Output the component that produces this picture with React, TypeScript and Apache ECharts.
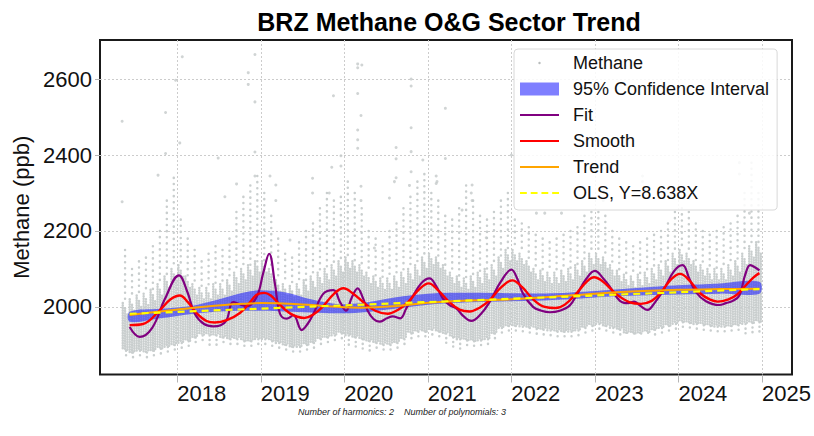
import React, { useEffect, useRef } from "react";
import * as echarts from "echarts";

const chartTitle = "BRZ Methane O&G Sector Trend";
const yAxisName = "Methane (ppb)";
const footnote = "Number of harmonics: 2    Number of polynomials: 3";
const xTickYears = [2018, 2019, 2020, 2021, 2022, 2023, 2024, 2025];
const yTickValues = [2000, 2200, 2400, 2600];
const legendNames = ["Methane", "95% Confidence Interval", "Fit", "Smooth", "Trend", "OLS, Y=8.638X"];

// Monthly stripes of observations, starting May 2017
const stripeStart = { year: 2017, month: 5 };
const stripeTailLow = [
  1865, 1860, 1865, 1862, 1870, 1870, 1875, 1880,
  1885, 1890, 1900, 1905, 1900, 1900, 1900, 1895, 1895, 1890, 1890, 1895,
  1895, 1890, 1885, 1880, 1880, 1880, 1885, 1890, 1895, 1900, 1905, 1910,
  1900, 1895, 1890, 1885, 1882, 1880, 1880, 1885, 1900, 1910, 1915, 1920,
  1920, 1915, 1905, 1895, 1890, 1888, 1888, 1890, 1895, 1910, 1925, 1930,
  1930, 1928, 1925, 1922, 1920, 1920, 1920, 1920, 1922, 1925, 1930, 1935,
  1940, 1935, 1930, 1925, 1920, 1918, 1918, 1920, 1925, 1930, 1935, 1940,
  1945, 1940, 1938, 1935, 1932, 1930, 1930, 1932, 1935, 1925, 1922, 1925,
];
const stripeCoreLow = [
  1885, 1880, 1885, 1880, 1885, 1890, 1895, 1900,
  1905, 1910, 1920, 1925, 1925, 1925, 1920, 1915, 1915, 1910, 1910, 1915,
  1915, 1910, 1905, 1900, 1895, 1895, 1900, 1905, 1915, 1920, 1925, 1930,
  1925, 1920, 1915, 1910, 1905, 1900, 1900, 1905, 1915, 1930, 1935, 1935,
  1940, 1935, 1930, 1920, 1915, 1912, 1910, 1912, 1915, 1930, 1945, 1950,
  1950, 1948, 1945, 1942, 1940, 1938, 1935, 1935, 1935, 1938, 1945, 1950,
  1955, 1950, 1945, 1940, 1932, 1930, 1930, 1932, 1940, 1945, 1950, 1955,
  1960, 1958, 1955, 1952, 1950, 1948, 1948, 1950, 1952, 1955, 1958, 1960,
];
const stripeCoreHigh = [
  2010, 2020, 2030, 2035, 2045, 2060, 2080, 2100,
  2110, 2080, 2060, 2050, 2050, 2060, 2060, 2070, 2090, 2100, 2110, 2120,
  2120, 2100, 2070, 2060, 2055, 2060, 2070, 2080, 2090, 2100, 2110, 2120,
  2130, 2120, 2110, 2090, 2080, 2075, 2075, 2080, 2090, 2100, 2110, 2130,
  2140, 2130, 2110, 2090, 2080, 2075, 2080, 2090, 2100, 2110, 2130, 2150,
  2150, 2140, 2120, 2100, 2095, 2090, 2090, 2095, 2100, 2110, 2120, 2140,
  2140, 2130, 2110, 2095, 2085, 2080, 2085, 2090, 2100, 2110, 2120, 2140,
  2150, 2140, 2120, 2110, 2100, 2100, 2100, 2110, 2120, 2140, 2160, 2170,
];
const stripeTailHigh = [
  2150, 2100, 2120, 2130, 2160, 2200, 2280, 2340,
  2230, 2180, 2150, 2120, 2140, 2160, 2150, 2180, 2250, 2290, 2320, 2345,
  2300, 2240, 2180, 2140, 2130, 2170, 2200, 2220, 2260, 2300, 2280, 2290,
  2330, 2300, 2260, 2200, 2180, 2160, 2200, 2220, 2260, 2290, 2330, 2350,
  2300, 2280, 2240, 2230, 2260, 2320, 2280, 2240, 2230, 2250, 2280, 2300,
  2230, 2220, 2210, 2190, 2180, 2170, 2180, 2190, 2200, 2210, 2240, 2250,
  2250, 2240, 2200, 2180, 2170, 2160, 2170, 2180, 2190, 2200, 2220, 2250,
  2260, 2250, 2220, 2200, 2190, 2200, 2210, 2220, 2240, 2300, 2380, 2300,
];

// Isolated high readings [decimal year, ppb]
const outliers: [number, number][] = [
  [2017.34, 2489], [2017.34, 2277], [2017.77, 2347], [2017.86, 2512], [2017.86, 2404],
  [2018.06, 2659], [2017.98, 2597], [2018.03, 2432], [2018.49, 2392], [2018.57, 2290],
  [2018.71, 2324], [2018.85, 2617], [2018.85, 2586], [2018.93, 2665], [2018.93, 2540],
  [2018.93, 2408], [2018.93, 2345], [2019.11, 2345], [2019.18, 2321], [2019.18, 2280],
  [2019.35, 2176], [2019.62, 2339], [2019.62, 2300], [2019.82, 2300], [2019.85, 2368],
  [2019.87, 2556], [2019.96, 2398], [2019.96, 2371], [2020.16, 2640], [2020.16, 2630],
  [2020.21, 2637], [2020.16, 2562], [2020.20, 2504], [2020.16, 2466], [2020.16, 2440],
  [2020.16, 2418], [2020.36, 2155], [2020.54, 2287], [2020.62, 2420], [2020.62, 2390],
  [2020.62, 2340], [2020.80, 2600], [2020.80, 2582], [2020.80, 2472], [2020.80, 2409],
  [2020.80, 2356], [2020.94, 2387], [2021.21, 2523], [2021.21, 2391], [2021.10, 2345],
  [2021.10, 2325], [2021.41, 2255], [2021.53, 2321], [2021.53, 2280], [2021.70, 2182],
  [2020.20, 2318], [2020.20, 2280], [2020.78, 2320], [2021.11, 2330], [2021.52, 2300],
  [2020.60, 2330], [2022.00, 2400], [2022.30, 2247], [2022.40, 2247], [2022.60, 2247],
  [2023.57, 2345], [2023.57, 2330], [2024.73, 2380], [2024.73, 2350], [2024.85, 2247],
  [2022.50, 2300], [2023.10, 2280],
];

const fitPoints: [number, number][] = [
  [2017.43, 1947], [2017.55, 1921], [2017.7, 1945], [2017.85, 2020], [2018.02, 2083],
  [2018.12, 2040], [2018.21, 1982], [2018.32, 1955], [2018.43, 1949], [2018.52, 1952],
  [2018.59, 1965], [2018.67, 2013], [2018.76, 2006], [2018.83, 2002], [2018.95, 2026],
  [2019.03, 2090], [2019.10, 2140], [2019.17, 2060], [2019.23, 1982], [2019.31, 1969],
  [2019.39, 1978], [2019.49, 1939], [2019.56, 1955], [2019.63, 1982], [2019.75, 2035],
  [2019.87, 2044], [2019.95, 2012], [2020.02, 1990], [2020.09, 2025], [2020.16, 2049],
  [2020.22, 2025], [2020.28, 1990], [2020.35, 1968], [2020.42, 1961], [2020.51, 1970],
  [2020.58, 1975], [2020.67, 1970], [2020.74, 1995], [2020.81, 2024], [2020.92, 2062],
  [2021.02, 2075], [2021.10, 2055], [2021.18, 2022], [2021.26, 2005], [2021.34, 1996],
  [2021.43, 1975], [2021.52, 1963], [2021.63, 1980], [2021.74, 2013], [2021.87, 2065],
  [2022.00, 2098], [2022.07, 2075], [2022.14, 2035], [2022.26, 2000], [2022.36, 1990],
  [2022.46, 1986], [2022.58, 1990], [2022.70, 2004], [2022.78, 2031], [2022.90, 2075],
  [2023.00, 2095], [2023.10, 2075], [2023.18, 2053], [2023.30, 2016], [2023.40, 2010],
  [2023.47, 2014], [2023.55, 2002], [2023.63, 1992], [2023.72, 2012], [2023.82, 2044],
  [2023.95, 2095], [2024.05, 2110], [2024.13, 2075], [2024.21, 2039], [2024.33, 2015],
  [2024.49, 2005], [2024.57, 2010], [2024.65, 2016], [2024.73, 2030], [2024.80, 2085],
  [2024.86, 2110], [2024.92, 2104], [2024.97, 2096],
];

const smoothPoints: [number, number][] = [
  [2017.43, 1952], [2017.59, 1955], [2017.79, 1991], [2017.92, 2020], [2018.03, 2030],
  [2018.13, 2012], [2018.23, 1984], [2018.35, 1963], [2018.45, 1959], [2018.6, 1966],
  [2018.75, 1984], [2018.87, 2012], [2018.95, 2032], [2019.04, 2037], [2019.12, 2030],
  [2019.2, 2012], [2019.35, 1983], [2019.52, 1971], [2019.63, 1980], [2019.74, 2000],
  [2019.87, 2033], [2019.99, 2049], [2020.1, 2036], [2020.23, 2012], [2020.37, 1990],
  [2020.52, 1982], [2020.64, 1992], [2020.76, 2012], [2020.89, 2045], [2021.01, 2062],
  [2021.13, 2042], [2021.26, 2012], [2021.38, 1993], [2021.5, 1988], [2021.62, 1998],
  [2021.74, 2018], [2021.88, 2052], [2022.01, 2070], [2022.13, 2052], [2022.26, 2020],
  [2022.4, 2000], [2022.53, 1997], [2022.64, 2006], [2022.78, 2036], [2022.9, 2066],
  [2022.99, 2078], [2023.1, 2066], [2023.26, 2033], [2023.42, 2012], [2023.55, 2008],
  [2023.68, 2016], [2023.79, 2038], [2023.91, 2072], [2024.02, 2087], [2024.13, 2070],
  [2024.26, 2036], [2024.38, 2019], [2024.47, 2014], [2024.6, 2020], [2024.7, 2032],
  [2024.8, 2055], [2024.9, 2078], [2024.97, 2089],
];

const trendPoints: [number, number][] = [
  [2017.43, 1979], [2017.8, 1988], [2018.2, 1998], [2018.6, 2006], [2019.0, 2010],
  [2019.4, 2008], [2019.8, 2002], [2020.2, 1998], [2020.6, 2002], [2021.0, 2011],
  [2021.5, 2017], [2022.0, 2020], [2022.5, 2027], [2023.0, 2035], [2023.5, 2041],
  [2024.0, 2045], [2024.5, 2047], [2024.97, 2048],
];

const olsPoints: [number, number][] = [
  [2017.43, 1982], [2024.97, 2047],
];

const ciYears = [2017.43, 2017.8, 2018.2, 2018.5, 2018.8, 2019.0, 2019.3, 2019.6, 2019.9, 2020.2, 2020.6, 2021.0, 2021.5, 2022.0, 2022.5, 2023.0, 2023.5, 2024.0, 2024.5, 2024.97];
const ciLower = [1961, 1970, 1982, 1988, 1990, 1990, 1988, 1985, 1983, 1985, 1995, 2006, 2012, 2015, 2018, 2025, 2030, 2033, 2035, 2035];
const ciUpper = [1987, 1995, 2004, 2020, 2038, 2044, 2038, 2020, 2008, 2010, 2025, 2035, 2037, 2036, 2036, 2042, 2050, 2057, 2062, 2066];

const FONT = "Liberation Sans, Arial, sans-serif";
const DOT = "#c9cece";
const BAND = "rgba(0,0,255,0.5)";
const FIT = "#800080";
const SMOOTH = "#ff0000";
const TREND = "#ffa500";
const OLS = "#ffff00";

export default function App() {
  const ref = useRef<HTMLDivElement>(null);
  useEffect(() => {
    if (!ref.current) return;
    const chart = echarts.init(ref.current, null, { renderer: "svg" });

    const stripeData = stripeCoreLow.map((_, i) => {
      const m = stripeStart.month - 1 + i;
      const x = stripeStart.year + Math.floor(m / 12) + ((m % 12) + 0.5) / 12;
      return [x, stripeTailLow[i], stripeCoreLow[i], stripeCoreHigh[i], stripeTailHigh[i]];
    });
    const bandData = ciYears.map((x, i) => [x, ciLower[i], ciUpper[i]]);

    const frame = "M0,0M40,0M40,13M0,13";
    const dotIcon = `path://${frame}M18.8,6.5a1.2,1.2 0 1,0 2.4,0a1.2,1.2 0 1,0 -2.4,0z`;
    const lineIcon = `path://${frame}M0,5.6L40,5.6L40,7.4L0,7.4Z`;
    const dashIcon = `path://${frame}M0,5.6L7,5.6L7,7.4L0,7.4ZM11,5.6L18,5.6L18,7.4L11,7.4ZM22,5.6L29,5.6L29,7.4L22,7.4ZM33,5.6L40,5.6L40,7.4L33,7.4Z`;

    const dotLine = (x: number, y1: number, y2: number, gap: number, offset: number) => ({
      type: "line",
      shape: { x1: x, y1, x2: x, y2 },
      style: { stroke: DOT, lineWidth: 2.5, lineDash: [0.1, gap], lineDashOffset: offset, lineCap: "round" },
    });

    chart.setOption({
      animation: false,
      backgroundColor: "#ffffff",
      textStyle: { fontFamily: FONT },
      title: {
        text: chartTitle,
        left: 444,
        top: 4,
        textAlign: "center",
        textStyle: { fontSize: 25, fontWeight: "bold", color: "#000", fontFamily: FONT },
      },
      grid: {
        left: 100,
        top: 40,
        right: 22,
        bottom: 61.5,
        show: true,
        borderColor: "#1a1a1a",
        borderWidth: 2,
        containLabel: false,
      },
      legend: {
        left: 514,
        top: 49,
        orient: "vertical",
        itemWidth: 39,
        itemHeight: 13,
        itemGap: 6,
        padding: [4, 8, 7, 6],
        backgroundColor: "rgba(255,255,255,0.85)",
        borderColor: "#d8d8d8",
        borderWidth: 1,
        borderRadius: 4,
        textStyle: { fontSize: 18, color: "#111", fontFamily: FONT, lineHeight: 20, padding: [0, 0, 0, 9] },
        data: [
          { name: legendNames[0], icon: dotIcon, itemStyle: { color: "#b8bcbc" } },
          { name: legendNames[1], icon: "rect", itemStyle: { color: BAND } },
          { name: legendNames[2], icon: lineIcon, itemStyle: { color: FIT } },
          { name: legendNames[3], icon: lineIcon, itemStyle: { color: SMOOTH } },
          { name: legendNames[4], icon: lineIcon, itemStyle: { color: TREND } },
          { name: legendNames[5], icon: dashIcon, itemStyle: { color: OLS } },
        ],
      },
      xAxis: {
        type: "value",
        min: 2017.075,
        max: 2025.36,
        axisLine: { show: false },
        axisTick: { show: true, customValues: xTickYears, length: 8, lineStyle: { color: "#b5b5b5" } },
        axisLabel: {
          customValues: xTickYears,
          align: "left",
          fontSize: 22,
          lineHeight: 22,
          color: "#111",
          margin: 8,
          fontFamily: FONT,
          formatter: (v: number) => String(Math.round(v)),
        },
        splitLine: { show: true, lineStyle: { color: "#cccccc", type: [2, 2], width: 1 } },
      },
      yAxis: {
        type: "value",
        min: 1822,
        max: 2703,
        name: yAxisName,
        nameLocation: "middle",
        nameGap: 66,
        nameTextStyle: { fontSize: 22, color: "#111", fontFamily: FONT },
        axisLine: { show: false },
        axisTick: { show: true, customValues: yTickValues, length: 5, lineStyle: { color: "#b5b5b5" } },
        axisLabel: {
          customValues: yTickValues,
          fontSize: 22,
          color: "#111",
          margin: 8,
          fontFamily: FONT,
          formatter: (v: number) => String(Math.round(v)),
        },
        splitLine: { show: true, lineStyle: { color: "#cccccc", type: [2, 2], width: 1 } },
      },
      graphic: [
        {
          type: "text",
          left: 298,
          top: 407,
          style: { text: footnote, fontSize: 9, fontStyle: "italic", fill: "#222", fontFamily: FONT },
        },
      ],
      series: [
        {
          name: legendNames[0],
          type: "custom",
          data: stripeData,
          itemStyle: { color: "#b8bcbc" },
          renderItem: (params: any, api: any) => {
            const x = api.value(0);
            const tl = api.coord([x, api.value(1)]);
            const cl = api.coord([x, api.value(2)]);
            const ch = api.coord([x, api.value(3)]);
            const th = api.coord([x, api.value(4)]);
            const px = ch[0];
            return {
              type: "group",
              children: [
                dotLine(px, th[1], ch[1], 6, 0),
                dotLine(px - 2.3, ch[1], cl[1], 2.4, 0),
                dotLine(px, ch[1] + 4, cl[1], 2.4, 1.2),
                dotLine(px + 2.3, ch[1] + 10, cl[1], 2.4, 0.6),
                dotLine(px + 1, cl[1], tl[1], 4.5, 0),
              ],
            };
          },
        },
        {
          name: legendNames[0],
          type: "scatter",
          data: outliers,
          symbolSize: 3,
          itemStyle: { color: "#c4c9c9" },
        },
        {
          name: legendNames[1],
          type: "custom",
          data: bandData,
          itemStyle: { color: BAND },
          renderItem: (params: any, api: any) => {
            if (params.dataIndexInside !== 0) return null;
            const n = params.dataInsideLength;
            const top: number[][] = [];
            const bot: number[][] = [];
            for (let i = 0; i < n; i++) {
              top.push(api.coord([api.value(0, i), api.value(2, i)]));
              bot.push(api.coord([api.value(0, i), api.value(1, i)]));
            }
            return {
              type: "polygon",
              shape: { points: top.concat(bot.reverse()), smooth: 0.35 },
              style: { fill: BAND },
            };
          },
        },
        {
          name: legendNames[2],
          type: "line",
          data: fitPoints,
          symbol: "none",
          smooth: 0.4,
          lineStyle: { color: FIT, width: 2.2 },
          itemStyle: { color: FIT },
        },
        {
          name: legendNames[3],
          type: "line",
          data: smoothPoints,
          symbol: "none",
          smooth: 0.4,
          lineStyle: { color: SMOOTH, width: 2.4 },
          itemStyle: { color: SMOOTH },
        },
        {
          name: legendNames[4],
          type: "line",
          data: trendPoints,
          symbol: "none",
          smooth: 0.4,
          lineStyle: { color: TREND, width: 2 },
          itemStyle: { color: TREND },
        },
        {
          name: legendNames[5],
          type: "line",
          data: olsPoints,
          symbol: "none",
          lineStyle: { color: OLS, width: 2.2, type: [7, 5] },
          itemStyle: { color: OLS },
        },
      ],
    });
    return () => chart.dispose();
  }, []);
  return <div ref={ref} style={{ position: "fixed", left: 0, top: 0, width: 814, height: 436 }} />;
}
